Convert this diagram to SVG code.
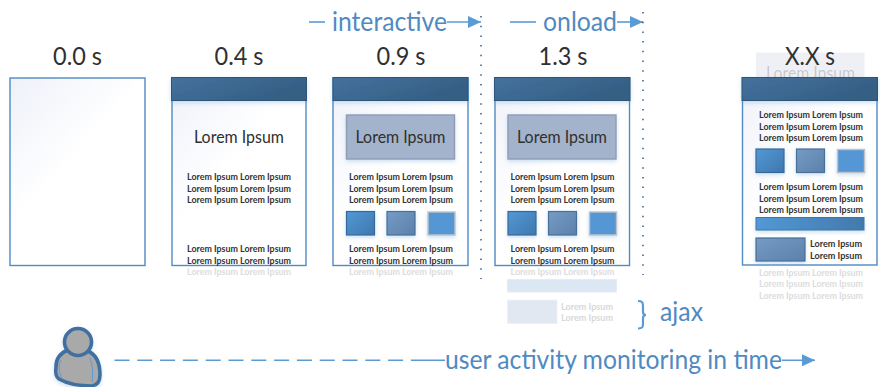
<svg xmlns="http://www.w3.org/2000/svg" xmlns:xlink="http://www.w3.org/1999/xlink" width="880" height="387" viewBox="0 0 880 387">
<style>
text{font-family:Lato,"Liberation Sans",sans-serif}
.t{font-size:25.5px;fill:#303030;text-anchor:middle}
.h{font-size:16.500px;fill:#303030;text-anchor:middle}
.s{font-size:8.8px;font-weight:700;fill:#333}
.f{font-size:8.8px;font-weight:700;fill:#dcdcdc}
.sg{font-size:8.8px;font-weight:700;fill:#d8d8d8}
.b{font-size:26.5px;fill:#4f8ac3}
.ln{fill:none;stroke:#5b9bd5;stroke-width:1.6}
.page{stroke:#4f8ac4;stroke-width:1.4;fill:url(#pg)}
.hd{fill:url(#hd);stroke:#2f5478;stroke-width:1;filter:url(#sh)}
.hero{fill:#a3b3cb;stroke:#8c9db4;stroke-width:1.4;filter:url(#sh)}
.q1{fill:url(#q1);stroke:#36699b;stroke-width:1.2;filter:url(#sh)}
.q2{fill:url(#q2);stroke:#476f9a;stroke-width:1.2;filter:url(#sh)}
.q3{fill:#5497d5;stroke:#bfc3c7;stroke-width:1.4;filter:url(#sh)}
.dot{fill:none;stroke:#2f5f93;stroke-width:1.5;stroke-dasharray:1.5 8.2}
</style>
<defs>
<linearGradient id="pg" x1="0" y1="0" x2="0.6" y2="0.75"><stop offset="0" stop-color="#eef1f9"/><stop offset="0.65" stop-color="#fff"/></linearGradient>
<linearGradient id="hd" x1="0" y1="0" x2="1" y2="0.5"><stop offset="0" stop-color="#44729e"/><stop offset="1" stop-color="#345e83"/></linearGradient>
<linearGradient id="q1" x1="0" y1="0" x2="1" y2="1"><stop offset="0" stop-color="#5299d5"/><stop offset="1" stop-color="#3f77ae"/></linearGradient>
<linearGradient id="q2" x1="0" y1="0" x2="1" y2="1"><stop offset="0" stop-color="#759bc6"/><stop offset="1" stop-color="#5c81a9"/></linearGradient>
<linearGradient id="bar" x1="0" y1="0" x2="1" y2="0"><stop offset="0" stop-color="#5299d5"/><stop offset="1" stop-color="#4379ad"/></linearGradient>
<filter id="sh" x="-20%" y="-20%" width="140%" height="160%"><feDropShadow dx="0" dy="2" stdDeviation="2" flood-color="#5b9bd5" flood-opacity="0.3"/></filter>
<marker id="ah" markerUnits="userSpaceOnUse" markerWidth="14" markerHeight="12" refX="13" refY="6" orient="auto"><path d="M0 0L13 6L0 12z" fill="#5b9bd5"/></marker>
<g id="tri"><text class="s" x="0" y="0" textLength="104" lengthAdjust="spacingAndGlyphs">Lorem Ipsum Lorem Ipsum</text><text class="s" x="0" y="11.500" textLength="104" lengthAdjust="spacingAndGlyphs">Lorem Ipsum Lorem Ipsum</text><text class="s" x="0" y="23" textLength="104" lengthAdjust="spacingAndGlyphs">Lorem Ipsum Lorem Ipsum</text></g>
<g id="tail"><text class="s" x="0" y="0" textLength="104" lengthAdjust="spacingAndGlyphs">Lorem Ipsum Lorem Ipsum</text><text class="s" x="0" y="12" textLength="104" lengthAdjust="spacingAndGlyphs">Lorem Ipsum Lorem Ipsum</text><text class="f" x="0" y="23" textLength="104" lengthAdjust="spacingAndGlyphs">Lorem Ipsum Lorem Ipsum</text></g>
<g id="squares"><rect class="q1" x="0" y="0" width="28" height="23.500"/><rect class="q2" x="40.500" y="0" width="28" height="23.500"/><rect class="q3" x="81.500" y="0.500" width="27" height="23"/></g>
</defs>

<g id="connectors">
<path class="ln" d="M309 22H325"/>
<path class="ln" d="M447 22H481" marker-end="url(#ah)"/>
<path class="ln" d="M510 22H536"/>
<path class="ln" d="M617 22H643" marker-end="url(#ah)"/>
<path class="dot" d="M481 16V279"/>
<path class="dot" d="M643 12V275"/>
<path class="ln" d="M114.500 360.300H411" stroke-dasharray="15 7.800"/>
<path class="ln" d="M411 360.300H445"/>
<path class="ln" d="M782 360.300H815" marker-end="url(#ah)"/>
<path d="M638 301c4 0 5 1 5 5v6c0 2 .5 3 3 3c-2.500 0-3 1-3 3v6c0 3-.5 4.500-5 4.500" fill="none" stroke="#5b9bd5" stroke-width="2.200"/>
</g>

<g id="labels">
<text class="b" x="332" y="31" textLength="115" lengthAdjust="spacingAndGlyphs">interactive</text>
<text class="b" x="543" y="31" textLength="74" lengthAdjust="spacingAndGlyphs">onload</text>
<text class="b" x="660" y="321" textLength="43" lengthAdjust="spacingAndGlyphs">ajax</text>
<text class="b" x="445" y="369" textLength="337" lengthAdjust="spacingAndGlyphs">user activity monitoring in time</text>
</g>

<g id="page-0">
<text class="t" x="77.500" y="65" textLength="49" lengthAdjust="spacingAndGlyphs">0.0 s</text>
<rect class="page" x="10" y="78" width="135" height="187.500"/>
</g>

<g id="page-1">
<text class="t" x="239" y="65" textLength="49" lengthAdjust="spacingAndGlyphs">0.4 s</text>
<rect class="page" x="172" y="78" width="134" height="187.500"/>
<rect class="hd" x="171.500" y="77.500" width="135" height="23"/>
<text class="h" x="239" y="143" textLength="90" lengthAdjust="spacingAndGlyphs">Lorem Ipsum</text>
<use href="#tri" x="187" y="180"/>
<use href="#tail" x="187" y="252"/>
</g>

<g id="page-2">
<text class="t" x="401" y="65" textLength="49" lengthAdjust="spacingAndGlyphs">0.9 s</text>
<rect class="page" x="333" y="78" width="135" height="187.500"/>
<rect class="hd" x="333" y="77.500" width="135" height="23"/>
<rect class="hero" x="346.500" y="115" width="108" height="44"/>
<text class="h" x="400.500" y="143" textLength="90" lengthAdjust="spacingAndGlyphs">Lorem Ipsum</text>
<use href="#tri" x="349" y="180"/>
<use href="#squares" x="346.500" y="211.500"/>
<use href="#tail" x="349" y="252"/>
</g>

<g id="page-3">
<text class="t" x="563" y="65" textLength="49" lengthAdjust="spacingAndGlyphs">1.3 s</text>
<rect class="page" x="495" y="78" width="134.500" height="187.500"/>
<rect class="hd" x="494.500" y="77.500" width="135.500" height="23"/>
<rect class="hero" x="508" y="115" width="108" height="44"/>
<text class="h" x="562" y="143" textLength="90" lengthAdjust="spacingAndGlyphs">Lorem Ipsum</text>
<use href="#tri" x="510.500" y="180"/>
<use href="#squares" x="508" y="211.500"/>
<use href="#tail" x="510.500" y="252"/>
</g>

<g id="ajax-content">
<rect x="507.500" y="279.500" width="109" height="12.500" fill="#dbe7f2" stroke="#e4ecf5"/>
<rect x="507.500" y="300" width="49.500" height="23.500" fill="#e2e8f1" stroke="#edf1f7"/>
<text class="sg" x="561" y="310" textLength="52" lengthAdjust="spacingAndGlyphs">Lorem Ipsum</text>
<text class="sg" x="561" y="321" textLength="52" lengthAdjust="spacingAndGlyphs">Lorem Ipsum</text>
</g>

<g id="page-4">
<rect x="756" y="52.500" width="108.500" height="26" fill="#eef0f5"/>
<text class="h" x="810.500" y="79" fill-opacity="0.22" textLength="89" lengthAdjust="spacingAndGlyphs">Lorem Ipsum</text>
<text class="t" x="810" y="65" textLength="50" lengthAdjust="spacingAndGlyphs">X.X s</text>
<rect class="page" x="742.500" y="78" width="134.500" height="187"/>
<rect class="hd" x="742" y="77.500" width="135.500" height="23"/>
<use href="#tri" x="759" y="118"/>
<use href="#squares" x="756" y="149"/>
<use href="#tri" x="759" y="190"/>
<rect x="756" y="217.500" width="108" height="12.500" fill="url(#bar)" stroke="#3f75a8" stroke-width="1" filter="url(#sh)"/>
<rect class="q2" x="756" y="238" width="49" height="23"/>
<text class="s" x="810" y="247" textLength="52" lengthAdjust="spacingAndGlyphs">Lorem Ipsum</text>
<text class="s" x="810" y="259" textLength="52" lengthAdjust="spacingAndGlyphs">Lorem Ipsum</text>
<text class="f" x="759" y="276" textLength="104" lengthAdjust="spacingAndGlyphs">Lorem Ipsum Lorem Ipsum</text>
<text class="f" x="759" y="287" textLength="104" lengthAdjust="spacingAndGlyphs">Lorem Ipsum Lorem Ipsum</text>
<text class="f" x="759" y="299" textLength="104" lengthAdjust="spacingAndGlyphs">Lorem Ipsum Lorem Ipsum</text>
</g>

<g id="user" filter="url(#sh)">
<path d="M68 350C60 353 56 358 56 367C55 374 56 377 59 379C66 383 78 386 92 386C98 385 100 381 100 375C100 365 97 355 88 351C84 354 72 354 68 350z" fill="#a9a9a9" stroke="#41709f" stroke-width="3.600" stroke-linejoin="round"/>
<circle cx="78" cy="342" r="13.500" fill="#a9a9a9" stroke="#41709f" stroke-width="3.600"/>
<path d="M61 360C58 366 59 373 62 378M90 358C93 366 93 374 92 382" fill="none" stroke="#5b9bd5" stroke-width="1"/>
</g>
</svg>
